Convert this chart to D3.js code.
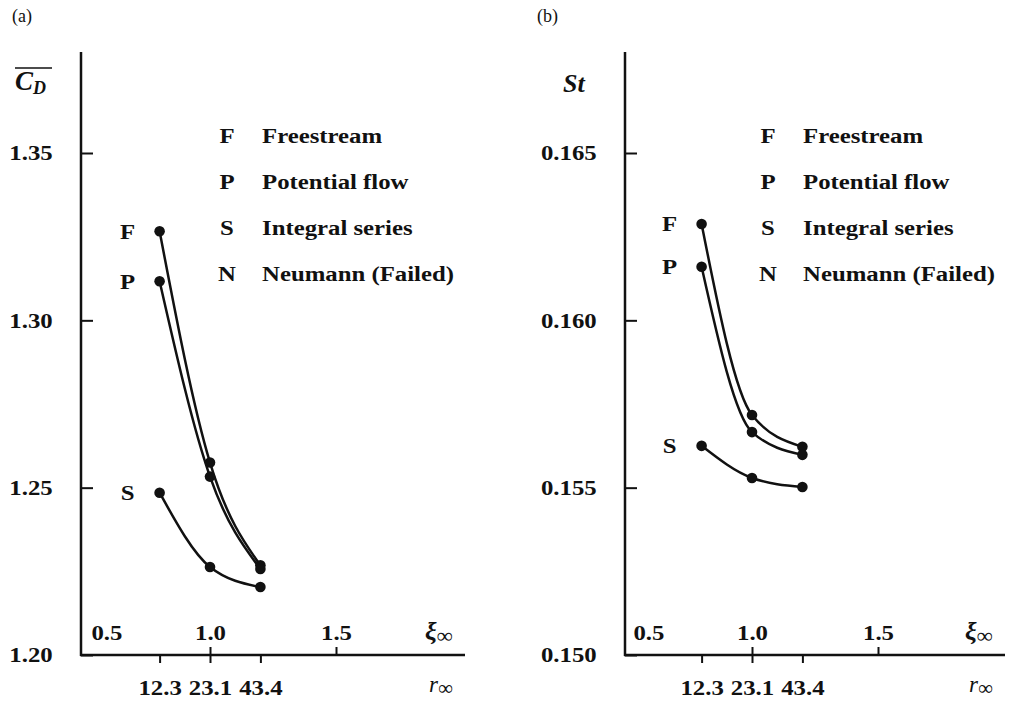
<!DOCTYPE html>
<html>
<head>
<meta charset="utf-8">
<script src="https://cdn.jsdelivr.net/npm/d3@7"></script>
<style>
  body { margin: 0; background: #fff; }
  text { font-family: "Liberation Serif", serif; fill: #111; }
</style>
</head>
<body>
<div id="chart"></div>
<script>
// data
const xiPoints = [0.8, 1.0, 1.2];
const xiTicks = [0.5, 1.0, 1.5];
const rTickLabels = ["12.3", "23.1", "43.4"];

const cdTicks = [1.20, 1.25, 1.30, 1.35];
const cdF = [1.3266, 1.2575, 1.2268];
const cdP = [1.3117, 1.2533, 1.2257];
const cdS = [1.2485, 1.2263, 1.2203];

const stTicks = [0.150, 0.155, 0.160, 0.165];
const stF = [0.16288, 0.15717, 0.15622];
const stP = [0.1616, 0.15666, 0.15598];
const stS = [0.15625, 0.15529, 0.15502];

const legendKeys = ["F", "P", "S", "N"];
const legendNames = ["Freestream", "Potential flow", "Integral series", "Neumann (Failed)"];

// the printed font is an extended bold face, so widen the glyphs a bit
const WIDE = 1.18;

const svg = d3.select("#chart")
    .append("svg")
    .attr("width", 1012)
    .attr("height", 701);

function wideText(g, x, y, str, anchor) {
    return g.append("text")
        .attr("transform", `translate(${x},${y}) scale(${WIDE},1)`)
        .attr("dy", "0.35em")
        .attr("text-anchor", anchor || "start")
        .attr("font-size", 21).attr("font-weight", "bold")
        .text(str);
}

function styleAxisText(sel) {
    sel.selectAll("text")
        .attr("font-size", 21).attr("font-weight", "bold")
        .attr("font-family", "Liberation Serif").attr("fill", "#111")
        .attr("transform", `scale(${WIDE},1)`);
}

function renderPanel(opt) {
    const g = svg.append("g");

    const x = d3.scaleLinear().domain([0.5, 1.5]).range([opt.x0, opt.x0 + 252]);
    const y = d3.scaleLinear().domain(opt.yDomain).range([655, 153]);
    const yTop = opt.yDomain[0] + (655 - 52) / 502 * (opt.yDomain[1] - opt.yDomain[0]);

    // axis lines
    g.append("line")
        .attr("x1", opt.axisX).attr("x2", opt.axisX)
        .attr("y1", y(yTop)).attr("y2", 656)
        .attr("stroke", "#111").attr("stroke-width", 2.5);
    g.append("line")
        .attr("x1", opt.axisX - 1).attr("x2", opt.axisEnd)
        .attr("y1", 655).attr("y2", 655)
        .attr("stroke", "#111").attr("stroke-width", 2.5);

    // y ticks point inward, labels on the left
    const yAxis = g.append("g")
        .attr("transform", `translate(${opt.axisX},0)`)
        .call(d3.axisLeft(y).tickValues(opt.yTicks).tickSize(-12).tickPadding(24).tickFormat(opt.yFormat));
    yAxis.select(".domain").remove();
    yAxis.selectAll("line").attr("stroke", "#111").attr("stroke-width", 2);
    styleAxisText(yAxis);

    // xi axis: ticks up, labels above
    const xiAxis = g.append("g")
        .attr("transform", "translate(0,655)")
        .call(d3.axisTop(x).tickValues(xiTicks).tickSize(8).tickPadding(7).tickFormat(d3.format(".1f")));
    xiAxis.select(".domain").remove();
    xiAxis.selectAll("line").attr("stroke", "#111").attr("stroke-width", 2)
        .attr("opacity", d => d === 0.5 ? 0 : 1);
    styleAxisText(xiAxis);
    xiAxis.selectAll("text").attr("dx", d => d === 0.5 ? 19 : 0);

    // r axis: ticks down, labels below
    const rAxis = g.append("g")
        .attr("transform", "translate(0,655)")
        .call(d3.axisBottom(x).tickValues(xiPoints).tickSize(8).tickPadding(17)
            .tickFormat((d, i) => rTickLabels[i]));
    rAxis.select(".domain").remove();
    rAxis.selectAll("line").attr("stroke", "#111").attr("stroke-width", 2);
    styleAxisText(rAxis);

    // axis names
    const xiLabel = g.append("text")
        .attr("x", opt.axisEnd - 40).attr("y", 640)
        .attr("font-size", 26).attr("font-style", "italic").attr("font-weight", "bold");
    xiLabel.append("tspan").text("ξ");
    xiLabel.append("tspan").attr("font-size", 22).attr("font-style", "normal").attr("dy", 3).text("∞");

    const rLabel = g.append("text")
        .attr("x", opt.axisEnd - 36).attr("y", 692)
        .attr("font-size", 23).attr("font-style", "italic");
    rLabel.append("tspan").text("r");
    rLabel.append("tspan").attr("font-size", 21).attr("font-style", "normal").attr("dy", 3).text("∞");

    // curves
    const line = d3.line()
        .x((d, i) => x(xiPoints[i]))
        .y(d => y(d))
        .curve(d3.curveMonotoneX);

    opt.series.forEach((s, k) => {
        g.append("path")
            .datum(s)
            .attr("d", line)
            .attr("fill", "none")
            .attr("stroke", "#111")
            .attr("stroke-width", 2.5);
        g.selectAll(null)
            .data(s)
            .join("circle")
            .attr("cx", (d, i) => x(xiPoints[i]))
            .attr("cy", d => y(d))
            .attr("r", 5.3)
            .attr("fill", "#111");
        wideText(g, x(xiPoints[0]) - 32, y(s[0]), legendKeys[k], "middle");
    });

    // legend
    legendKeys.forEach((key, i) => {
        const cy = 136 + 46 * i;
        wideText(g, opt.legendX, cy, key, "middle");
        wideText(g, opt.legendX + 35, cy, legendNames[i]);
    });

    // panel tag
    g.append("text")
        .attr("x", opt.tagX).attr("y", 22)
        .attr("font-size", 18)
        .text(opt.tag);

    return g;
}

const left = renderPanel({
    x0: 84, axisX: 81, axisEnd: 465,
    yDomain: [1.20, 1.35], yTicks: cdTicks, yFormat: d3.format(".2f"),
    series: [cdF, cdP, cdS], legendX: 227, tag: "(a)", tagX: 12
});

// C_D with overline
const cdLabel = left.append("text").attr("x", 15).attr("y", 90)
    .attr("font-size", 27).attr("font-style", "italic").attr("font-weight", "bold");
cdLabel.append("tspan").text("C");
cdLabel.append("tspan").attr("font-size", 18).attr("dy", 4).text("D");
left.append("line")
    .attr("x1", 15).attr("x2", 52).attr("y1", 68).attr("y2", 68)
    .attr("stroke", "#111").attr("stroke-width", 1.6);

const right = renderPanel({
    x0: 626, axisX: 625, axisEnd: 1005,
    yDomain: [0.150, 0.165], yTicks: stTicks, yFormat: d3.format(".3f"),
    series: [stF, stP, stS], legendX: 768, tag: "(b)", tagX: 537
});

right.append("text")
    .attr("x", 563).attr("y", 92)
    .attr("font-size", 26).attr("font-style", "italic").attr("font-weight", "bold")
    .text("St");
</script>
</body>
</html>
